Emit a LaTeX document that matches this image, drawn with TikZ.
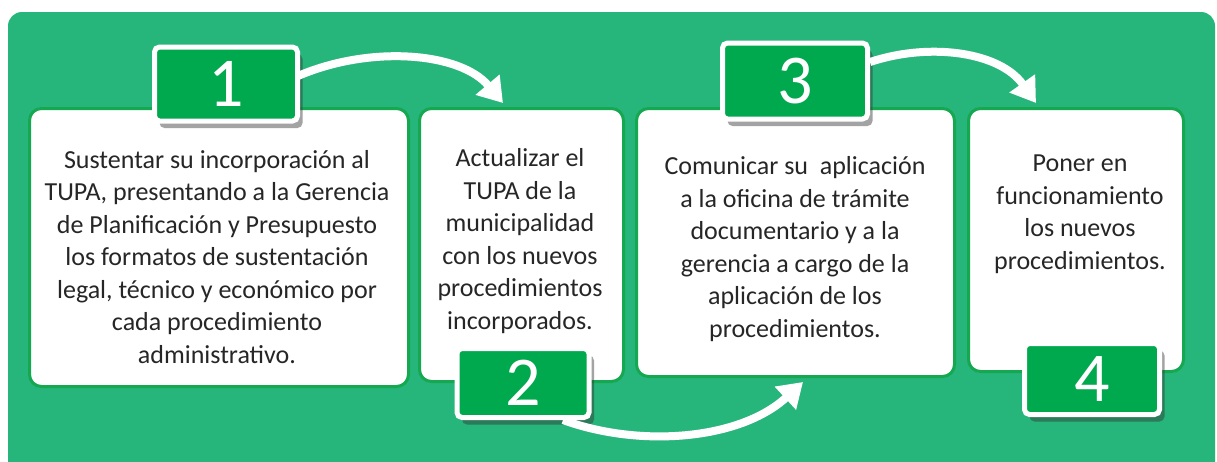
\documentclass[tikz,border=0pt]{standalone}
\usepackage{fontspec}
\setmainfont{Carlito}
\usetikzlibrary{arrows.meta,shadows}
\definecolor{bggreen}{RGB}{38,181,122}
\definecolor{boxline}{RGB}{22,168,80}
\definecolor{numfill}{RGB}{0,168,78}
\definecolor{txt}{RGB}{38,38,38}
\tikzset{
  stepcard/.style={draw=boxline, line width=3pt, fill=white, rounded corners=12pt, anchor=north west, inner sep=0pt},
  cardtext/.style={align=center, text=txt, font=\fontsize{26}{32.5}\selectfont, inner sep=0pt},
  numbox/.style={draw=white, line width=5pt, fill=numfill, rounded corners=5pt, text=white,
    font=\fontsize{70}{70}\selectfont, inner sep=0pt,
    drop shadow={shadow xshift=5pt, shadow yshift=-7pt, opacity=0.45, fill=black!80}},
  flowarrow/.style={draw=white, line width=8pt, -{Triangle[width=30pt,length=24pt]}}
}
\begin{document}
\begin{tikzpicture}[x=1pt,y=-1pt]
\useasboundingbox (0,0) rectangle (1217,461);
\fill[bggreen, rounded corners=14pt] (8,12) rectangle (1215,480);
% cards
\node[stepcard, minimum width=379pt, minimum height=278pt] (b1) at (28,107) {};
\node[stepcard, minimum width=204pt, minimum height=273pt] (b2) at (418,107) {};
\node[stepcard, minimum width=318pt, minimum height=268pt] (b3) at (635,107) {};
\node[stepcard, minimum width=215pt, minimum height=263pt] (b4) at (967,107) {};
% texts
\node[cardtext] (t1) at (217,257) {Sustentar su incorporación al\\TUPA, presentando a la Gerencia\\de Planificación y Presupuesto\\los formatos de sustentación\\legal, técnico y económico por\\cada procedimiento\\administrativo.};
\node[cardtext] (t2) at (520,241) {Actualizar el\\TUPA de la\\municipalidad\\con los nuevos\\procedimientos\\incorporados.};
\node[cardtext] (t3) at (795,249) {Comunicar su\ \ aplicación\\a la oficina de trámite\\documentario y a la\\gerencia a cargo de la\\aplicación de los\\procedimientos.};
\node[cardtext] (t4) at (1080,214) {Poner en\\funcionamiento\\los nuevos\\procedimientos.};
% arrow ends
\coordinate (a1e) at (503,103);
\coordinate (a2e) at (803,382);
\coordinate (a3e) at (1036,103);
% number boxes
\node[numbox, minimum width=143pt, minimum height=74pt] (n1) at (226,84) {1};
\node[numbox, minimum width=132pt, minimum height=69pt] (n2) at (523,383) {2};
\node[numbox, minimum width=145pt, minimum height=76pt] (n3) at (795,81) {3};
\node[numbox, minimum width=135pt, minimum height=71pt] (n4) at (1092,379) {4};
% arrows
\draw[flowarrow] ([xshift=-2pt,yshift=8pt]n1.east) .. controls (370,45) and (460,52) .. (a1e);
\draw[flowarrow] ([xshift=40pt]n2.south) .. controls (640,448) and (740,440) .. (a2e);
\draw[flowarrow] ([yshift=19pt]n3.east) .. controls (930,42) and (1000,52) .. (a3e);
\end{tikzpicture}
\end{document}
